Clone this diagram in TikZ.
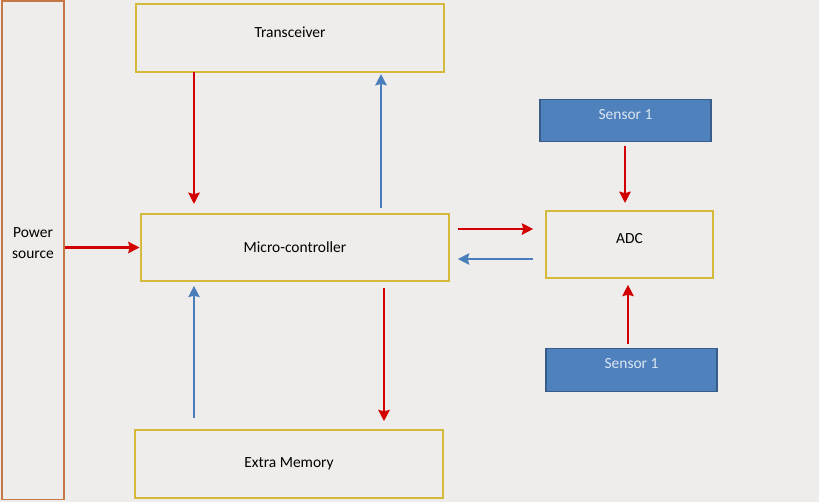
\documentclass[tikz,border=0pt]{standalone}
\usepackage{fontspec}
\setmainfont{Carlito}
\usetikzlibrary{arrows.meta}
\definecolor{bgcol}{RGB}{238,237,235}
\definecolor{boxline}{RGB}{212,186,60}
\definecolor{powerline}{RGB}{197,120,70}
\definecolor{sensfill}{RGB}{79,129,189}
\definecolor{sensline}{RGB}{56,93,138}
\definecolor{senstext}{RGB}{220,230,242}
\definecolor{redarr}{RGB}{210,0,0}
\definecolor{bluearr}{RGB}{74,126,187}
\newcommand{\uptext}[1]{\raisebox{0pt}[\height][\dimexpr\depth+0.3cm]{#1}}
\tikzset{
  block/.style={draw=boxline, line width=0.8pt, inner sep=0pt, outer sep=0pt,
    minimum width=7.7cm, minimum height=1.7cm},
  sensorbox/.style={draw=sensline, fill=sensfill, text=senstext, line width=0.8pt,
    inner sep=0pt, outer sep=0pt, minimum width=4.275cm, minimum height=1.06cm},
  redline/.style={->, draw=redarr, line width=1.8pt},
  blueline/.style={->, draw=bluearr, line width=1.8pt}
}
\begin{document}
\begin{tikzpicture}[x=0.025cm,y=-0.025cm,>={Stealth[length=8pt,width=8pt,inset=1pt]},
  font=\fontsize{11}{15}\selectfont]
        % Background
        \fill[bgcol] (0,0) rectangle (819,502);
        \useasboundingbox (0,0) rectangle (819,502);
        % Nodes
        \node[draw=powerline, line width=0.8pt, inner sep=0pt, minimum width=1.55cm,
          minimum height=12.45cm] (power) at (33,250)
          {\uptext{\begin{tabular}{@{}c@{}}Power\\source\end{tabular}}};
        \node[block] (trans) at (290,38) {\uptext{Transceiver}};
        \node[block, minimum height=1.675cm] (mc) at (295,247.5) {Micro-controller};
        \node[block] (mem) at (289,464) {Extra Memory};
        \node[block, minimum width=4.175cm, minimum height=1.675cm] (adc) at (629.5,244.5) {\uptext{ADC}};
        \node[sensorbox] (sensa) at (625.5,120.5) {\uptext{Sensor 1}};
        \node[sensorbox] (sensb) at (631.5,370) {\uptext{Sensor 1}};
        % Arrows
        \draw[redline, shorten >=1pt] (power.east |- mc.west) -- (mc.west);
        \draw[redline, shorten >=0.25cm] (trans.south -| 194,0) -- (mc.north -| 194,0);
        \draw[blueline, shorten <=0.15cm, shorten >=0.05cm] (mc.north -| 381,0) -- (trans.south -| 381,0);
        \draw[blueline, shorten <=0.3cm, shorten >=0.12cm] (mem.north -| 194,0) -- (mc.south -| 194,0);
        \draw[redline, shorten <=0.17cm, shorten >=0.22cm] (mc.south -| 384,0) -- (mem.north -| 384,0);
        \draw[redline, shorten <=0.22cm, shorten >=0.32cm] (mc.east |- 0,229) -- (adc.west |- 0,229);
        \draw[blueline, shorten <=0.32cm, shorten >=0.22cm] (adc.west |- 0,259) -- (mc.east |- 0,259);
        \draw[redline, shorten <=0.1cm, shorten >=0.2cm] (sensa.south -| 625,0) -- (adc.north -| 625,0);
        \draw[redline, shorten <=0.12cm, shorten >=0.17cm] (sensb.north -| 628,0) -- (adc.south -| 628,0);
\end{tikzpicture}
\end{document}
